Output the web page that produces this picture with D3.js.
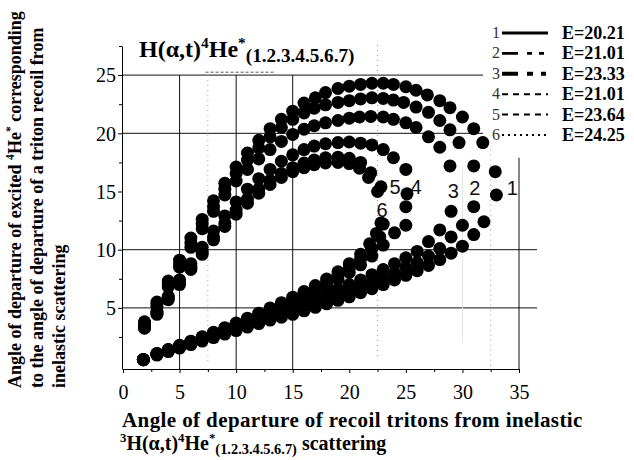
<!DOCTYPE html>
<html>
<head>
<meta charset="utf-8">
<script src="https://cdn.jsdelivr.net/npm/d3@7"></script>
<style>
  body { margin: 0; background: #fff; }
  svg { display: block; }
</style>
</head>
<body>
<script>
/* ---------- data ---------- */

// each curve: lower branch (left -> right), then upper branch (right -> left)
const curve1 = [[1.8,0.55],[3,0.95],[4,1.25],[5,1.55],[6,1.85],[7,2.15],[8,2.45],[9,2.75],[10,3.05],[11,3.35],[12,3.65],[13,3.95],[14,4.2],[15,4.45],[16,4.75],[17,5.05],[18,5.35],[19,5.65],[20,5.95],[21,6.3],[22,6.65],[23,7.0],[24,7.4],[25,7.8],[26,8.2],[27,8.65],[28,9.15],[29,9.7],[30,10.3],[31,11.3],[31.9,12.4],[33,14.7],[32.9,16.7],
  [31.8,19.2],[31,20.4],[30,21.4],[28.9,22.2],[28,22.8],[26.9,23.3],[25.9,23.7],[25,24.0],[23.9,24.2],[23,24.3],[22,24.3],[21,24.2],[20,24.05],[19,23.85],[17.9,23.5],[17,23.05],[16,22.6],[15,21.9],[14,21.2],[13,20.4],[12,19.4],[11,18.3],[10,17.1],[9,15.7],[8,14.2],[7,12.6],[6,11.0],[5,9.1],[4,7.3],[3,5.5],[1.9,3.8]];
const curve2 = [[1.8,0.55],[3,1.0],[4,1.3],[5,1.62],[6,1.95],[7,2.28],[8,2.6],[9,2.93],[10,3.25],[11,3.57],[12,3.88],[13,4.2],[14,4.5],[15,4.8],[16,5.1],[17,5.42],[18,5.75],[19,6.1],[20,6.45],[21,6.8],[22,7.2],[23,7.6],[24,8.0],[25,8.45],[26,8.9],[27,9.45],[28,10.1],[29,11.1],[30,12.1],[31,13.7],[31,17.2],
  [29.7,19.2],[28.9,20.3],[28,21.1],[27,21.8],[25.9,22.25],[24.8,22.65],[23.9,22.85],[23,23.0],[22,23.05],[21,22.95],[20,22.8],[19,22.65],[17.9,22.45],[16.9,22.15],[16,21.75],[15,21.2],[14,20.5],[13,19.7],[12,18.75],[11,17.7],[10,16.55],[9,15.2],[8,13.7],[7,12.2],[6,10.6],[5,8.8],[4,7.0],[3,5.3],[1.9,3.7]];
const curve3 = [[1.8,0.55],[3,1.03],[4,1.35],[5,1.68],[6,2.02],[7,2.37],[8,2.72],[9,3.07],[10,3.42],[11,3.77],[12,4.1],[13,4.43],[14,4.77],[15,5.1],[16,5.45],[17,5.82],[18,6.2],[19,6.6],[20,7.0],[21,7.4],[22,7.85],[23,8.3],[24,8.8],[25,9.3],[26,9.85],[27,10.7],[28,11.7],[29,13.3],[28.9,17.2],
  [28,18.8],[27,19.7],[25.9,20.5],[25,20.9],[23.9,21.2],[23,21.4],[21.9,21.45],[20.9,21.4],[20,21.3],[19,21.1],[17.9,20.9],[16.9,20.65],[16,20.35],[15,19.9],[14,19.3],[13,18.6],[12,17.8],[11,16.9],[10,15.9],[9,14.7],[8,13.3],[7,11.8],[6,10.2],[5,8.5],[4,6.8],[3,5.1],[1.9,3.6]];
const curve4 = [[1.8,0.55],[3,1.05],[4,1.38],[5,1.72],[6,2.07],[7,2.43],[8,2.8],[9,3.17],[10,3.55],[11,3.93],[12,4.32],[13,4.72],[14,5.12],[15,5.5],[16,5.95],[17,6.4],[18,6.9],[19,7.45],[20,8.05],[21,8.7],[22,9.45],[23,10.4],[24,11.45],[25,12.1],[25,13.7],[25.1,14.8],[25,16.9],
  [23.9,17.9],[23,18.6],[22,19.0],[21,19.15],[20,19.25],[19,19.2],[17.9,19.1],[16.9,18.9],[16,18.6],[15,18.15],[14,17.6],[13,16.9],[12,16.1],[11,15.2],[10,14.1],[9,12.9],[8,11.6],[7,10.2],[6,8.8],[5,7.4],[4,6.0],[3,4.7],[1.9,3.4]];
const curve5 = [[1.8,0.55],[3,1.07],[4,1.4],[5,1.75],[6,2.1],[7,2.47],[8,2.85],[9,3.23],[10,3.62],[11,4.02],[12,4.43],[13,4.85],[14,5.28],[15,5.72],[16,6.18],[17,6.68],[18,7.22],[19,7.8],[20,8.45],[21,9.2],[22,10.1],[22.7,11.1],[23,12.2],
  [22.8,15.4],[21.9,16.6],[21,17.5],[20,17.85],[19,17.95],[17.9,17.9],[16.9,17.7],[16,17.45],[15,17.05],[14,16.55],[13,15.95],[12,15.2],[11,14.35],[10,13.4],[9,12.3],[8,11.1],[7,9.8],[6,8.5],[5,7.15],[4,5.85],[3,4.55],[1.9,3.3]];
const curve6 = [[1.8,0.55],[3,1.08],[4,1.42],[5,1.78],[6,2.14],[7,2.52],[8,2.9],[9,3.3],[10,3.7],[11,4.12],[12,4.55],[13,5.0],[14,5.45],[15,5.92],[16,6.4],[17,6.92],[18,7.48],[19,8.1],[20,8.8],[21,9.6],[21.8,10.5],[22.4,11.4],[22.8,12.3],
  [22.5,15.0],[21.7,16.2],[20.9,17.0],[20,17.4],[19,17.5],[17.9,17.45],[16.9,17.3],[16,17.05],[15,16.7],[14,16.2],[13,15.6],[12,14.85],[11,14.0],[10,13.05],[9,12.0],[8,10.85],[7,9.6],[6,8.3],[5,7.0],[4,5.7],[3,4.45],[1.9,3.25]];

const curves = [curve1, curve2, curve3, curve4, curve5, curve6];
const curveIds = ["1", "2", "3", "4", "5", "6"];
const energies = ["E=20.21", "E=21.01", "E=23.33", "E=21.01", "E=23.64", "E=24.25"];
// where the curve numbers sit on the plot (data units)
const labelPos = [[34.4, 15.3], [31.1, 15.3], [29.2, 15.1], [25.9, 15.4], [24.05, 15.4], [22.9, 13.4]];

const xTicks = [0, 5, 10, 15, 20, 25, 30, 35];
const xMinor = [2.5, 7.5, 12.5, 17.5, 22.5, 27.5, 32.5];
const yTicks = [5, 10, 15, 20, 25];
const yMinor = [2.5, 7.5, 12.5, 17.5, 22.5, 27.5];

/* ---------- drawing ---------- */
var width = 634;
var height = 460;
var serif = "'Liberation Serif', 'Times New Roman', serif";
var sans = "'Liberation Sans', Arial, sans-serif";

var svg = d3.select("body").append("svg")
    .attr("width", width)
    .attr("height", height)
    .style("background", "#fff");

var x = d3.scaleLinear().domain([0, 35]).range([123, 519]);
var y = d3.scaleLinear().domain([-0.25, 27.5]).range([369, 46]);

// text with super/subscripts
function rich(sel, parts, size, subRatio) {
    var shift = 0;
    parts.forEach(function (p) {
        var k = p[1] || "n";
        var target = k === "sup" ? -size * 0.38 : (k === "sub" ? size * 0.22 : 0);
        var fs = k === "n" ? size : (k === "sub" ? size * (subRatio || 0.72) : size * 0.64);
        sel.append("tspan").attr("dy", target - shift).attr("font-size", fs).text(p[0]);
        shift = target;
    });
}

// grid
var grid = svg.append("g").attr("stroke", "#111").attr("stroke-width", 1);
[25, 20].forEach(function (v) {
    grid.append("line").attr("x1", x(0) - 1).attr("x2", 483).attr("y1", y(v)).attr("y2", y(v));
});
[10, 5].forEach(function (v) {
    grid.append("line").attr("x1", x(0) - 1).attr("x2", 537).attr("y1", y(v)).attr("y2", y(v));
});
[5, 10, 15].forEach(function (v) {
    grid.append("line").attr("x1", x(v)).attr("x2", x(v)).attr("y1", y(25)).attr("y2", y(-0.25));
});
grid.append("line").attr("x1", x(35)).attr("x2", x(35)).attr("y1", y(17.9)).attr("y2", y(-0.25));
svg.append("line").attr("x1", x(30)).attr("x2", x(30)).attr("y1", y(17)).attr("y2", y(2))
    .attr("stroke", "#e2e2e2").attr("stroke-width", 1);

var dots = svg.append("g").attr("stroke", "#999").attr("stroke-width", 1).attr("stroke-dasharray", "1,4");
dots.append("line").attr("x1", x(7.5)).attr("x2", x(7.5)).attr("y1", y(25)).attr("y2", y(0.3));
dots.append("line").attr("x1", x(22.5)).attr("x2", x(22.5)).attr("y1", 45).attr("y2", y(0.8));
dots.append("line").attr("x1", x(32.5)).attr("x2", x(32.5)).attr("y1", y(18.6)).attr("y2", y(0));
svg.append("line").attr("x1", x(7.3)).attr("x2", x(13.3)).attr("y1", y(25.25)).attr("y2", y(25.25))
    .attr("stroke", "#555").attr("stroke-width", 1).attr("stroke-dasharray", "3,2");

// axes
var xAxis = svg.append("g")
    .attr("transform", "translate(0," + y(-0.25) + ")")
    .call(d3.axisBottom(x).tickValues(xTicks).tickSize(4).tickSizeOuter(0));
svg.append("g")
    .attr("transform", "translate(0," + y(-0.25) + ")")
    .call(d3.axisBottom(x).tickValues(xMinor).tickSize(3).tickFormat(""))
    .select(".domain").remove();
xAxis.selectAll("text")
    .attr("y", 30).attr("dy", 0)
    .style("font-family", serif).style("font-size", "20px").attr("fill", "#000");

var yAxis = svg.append("g")
    .attr("transform", "translate(" + (x(0) - 1) + ",0)")
    .call(d3.axisLeft(y).tickValues(yTicks).tickSize(4).tickSizeOuter(0));
svg.append("g")
    .attr("transform", "translate(" + (x(0) - 1) + ",0)")
    .call(d3.axisLeft(y).tickValues(yMinor).tickSize(3).tickFormat(""))
    .select(".domain").remove();
yAxis.selectAll("text")
    .attr("x", -6).attr("dy", "0.34em")
    .style("font-family", serif).style("font-size", "20px").attr("fill", "#000");
svg.selectAll(".domain, .tick line").attr("stroke", "#000");

// points
svg.append("g")
    .selectAll("g")
    .data(curves)
    .enter()
    .append("g")
    .selectAll("circle")
    .data(function (d) { return d; })
    .enter()
    .append("circle")
    .attr("cx", function (d) { return x(d[0]); })
    .attr("cy", function (d) { return y(d[1]); })
    .attr("r", 6.5)
    .attr("fill", "#000");

// curve numbers
svg.append("g")
    .selectAll("text")
    .data(curveIds)
    .enter()
    .append("text")
    .attr("x", function (d, i) { return x(labelPos[i][0]); })
    .attr("y", function (d, i) { return y(labelPos[i][1]); })
    .attr("dy", "0.36em")
    .attr("text-anchor", "middle")
    .style("font-family", sans)
    .style("font-size", "20px")
    .attr("fill", "#111")
    .text(function (d) { return d; });

// legend
var ly = d3.scaleLinear().domain([0, 5]).range([33, 135]);
var lineStyles = [
    { w: 3, dash: null },
    { w: 2.6, dash: "16,9,5,7,5,20" },
    { w: 4, dash: "16,9,6,8,5,20" },
    { w: 2, dash: "6,5" },
    { w: 2, dash: "6,5" },
    { w: 2, dash: "2,4" }
];
var legend = svg.append("g");
curveIds.forEach(function (id, i) {
    var row = ly(i);
    legend.append("text")
        .attr("x", 496).attr("y", row + 5)
        .attr("text-anchor", "middle")
        .style("font-family", serif).style("font-size", "16px")
        .attr("fill", "#333")
        .text(id);
    legend.append("line")
        .attr("x1", 502).attr("x2", 548).attr("y1", row).attr("y2", row)
        .attr("stroke", "#000")
        .attr("stroke-width", lineStyles[i].w)
        .attr("stroke-dasharray", lineStyles[i].dash);
    legend.append("text")
        .attr("x", 562).attr("y", row + 6)
        .style("font-family", serif).style("font-size", "18px").style("font-weight", "bold")
        .text(energies[i]);
});

// title inside the plot
var title = svg.append("text")
    .attr("x", 139).attr("y", 57)
    .style("font-family", serif).style("font-weight", "bold");
rich(title, [["H(\u03b1,t)"], ["4", "sup"], ["He"], ["*", "sup"], ["(1.2.3.4.5.6.7)", "sub"]], 24, 0.8);

// x axis title
svg.append("text")
    .attr("x", 122).attr("y", 427)
    .style("font-family", serif).style("font-weight", "bold").style("font-size", "21px")
    .style("letter-spacing", "0.4px")
    .text("Angle of departure of recoil tritons from inelastic");
var xt2 = svg.append("text")
    .attr("x", 120).attr("y", 450)
    .style("font-family", serif).style("font-weight", "bold");
rich(xt2, [["3", "sup"], ["H(\u03b1,t)"], ["4", "sup"], ["He"], ["*", "sup"], ["(1.2.3.4.5.6.7)", "sub"], [" scattering"]], 20, 0.72);

// y axis title (three lines, rotated)
var yTitle = [
    [["Angle of departure of excited "], ["4", "sup"], ["He"], ["*", "sup"], [" corresponding"]],
    [["to the angle of departure of a triton recoil from"]],
    [["inelastic scattering"]]
];
var yBase = [21, 43, 65];
yTitle.forEach(function (parts, i) {
    var t = svg.append("text")
        .attr("transform", "translate(" + yBase[i] + ",388) rotate(-90)")
        .style("font-family", serif).style("font-weight", "bold");
    rich(t, parts, 18);
});
</script>
</body>
</html>
